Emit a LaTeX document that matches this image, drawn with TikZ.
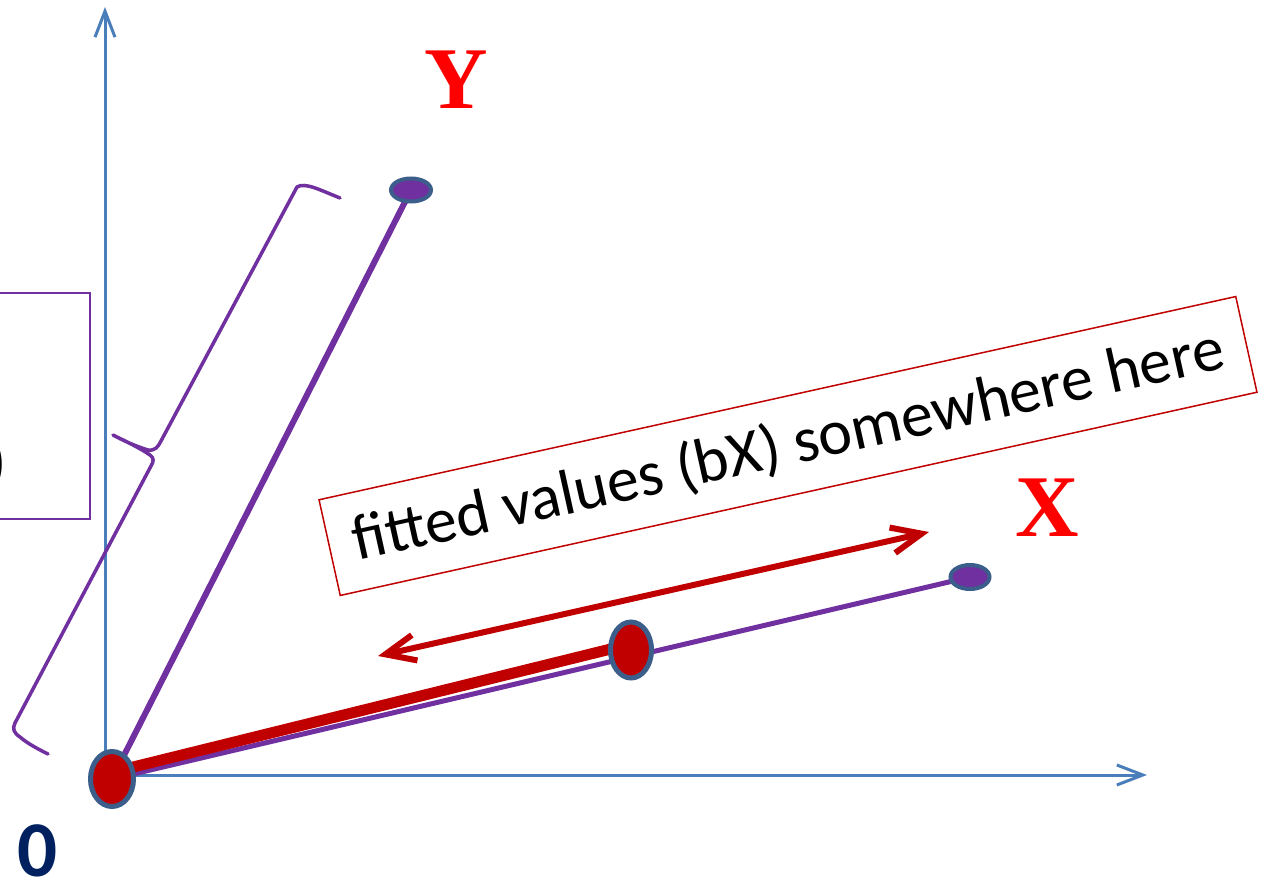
\documentclass[tikz,border=0pt]{standalone}
\usepackage{fontspec}
\setmainfont{Carlito}
\newfontfamily\timesfam{Liberation Serif}
\usetikzlibrary{arrows.meta,shapes.geometric}
\definecolor{axisblue}{HTML}{4A7EBB}
\definecolor{vpurple}{HTML}{7030A0}
\definecolor{darkred}{HTML}{C00000}
\definecolor{ringblue}{HTML}{3B5E8B}
\definecolor{navy}{HTML}{002060}
\definecolor{brightred}{HTML}{FF0000}
\begin{document}
\begin{tikzpicture}[x=1pt,y=-1pt,
  axisline/.style={draw=axisblue, line width=3pt, -{Straight Barb[length=26pt,width=20pt]}},
  vecline/.style={draw=vpurple, line width=6pt},
  fitline/.style={draw=darkred, line width=11pt},
  dblarrow/.style={draw=darkred, line width=6pt, {Straight Barb[length=30pt,width=26pt]}-{Straight Barb[length=30pt,width=26pt]}},
  bigpt/.style={ellipse, draw=ringblue, line width=5pt, fill=darkred, inner sep=0pt},
  smallpt/.style={ellipse, draw=ringblue, line width=4pt, fill=vpurple, inner sep=0pt},
  lbl/.style={text=brightred, font=\timesfam\bfseries\fontsize{88}{90}\selectfont, inner sep=0pt},
  bracestyle/.style={draw=vpurple, line width=3.5pt, line join=round, line cap=round},
  thinbox/.style={line width=1.8pt}
]
\useasboundingbox (0,0) rectangle (1264,885);

% coordinates
\coordinate (ax0) at (105,775);
\coordinate (axtop) at (105,7);
\coordinate (axright) at (1147,775);
\coordinate (o) at (112,779);
\coordinate (m) at (631,650);
\coordinate (yp) at (411,190);
\coordinate (xp) at (970,577);
\coordinate (fo) at (113,772);
\coordinate (fm) at (631,644);
\coordinate (al) at (378,656);
\coordinate (ar) at (929,532);

% axes
\draw[axisline] (ax0) -- (axtop);
\draw[axisline] (ax0) -- (axright);

% left box (cut off)
\draw[draw=vpurple, thinbox] (-20,293) rectangle (90,519);
\node[anchor=east, inner sep=0pt, font=\fontsize{64}{70}\selectfont] (paren) at (7,465) {)};

% brace
\draw[bracestyle] (340,198) .. controls (320,190) and (305,182) .. (297,187)
  -- (161,441) .. controls (158,447) and (155,451) .. (148,450)
  .. controls (135,446) and (122,440) .. (113,435)
  .. controls (125,441) and (140,448) .. (150,455)
  .. controls (154,458) and (154,461) .. (151,466)
  -- (15,723) .. controls (12,729) and (14,733) .. (20,737)
  .. controls (28,744) and (40,750) .. (48,754);

% vectors
\draw[vecline] (o) -- (yp);
\draw[vecline, line width=5pt] (o) -- (xp);
\draw[fitline] (fo) -- (fm);

% double arrow
\draw[dblarrow] (al) -- (ar);

% points
\node[bigpt, minimum width=43pt, minimum height=55pt] (O) at (o) {};
\node[bigpt, minimum width=41pt, minimum height=56pt] (M) at (m) {};
\node[smallpt, minimum width=40pt, minimum height=23pt] (Yp) at (yp) {};
\node[smallpt, minimum width=39pt, minimum height=24pt] (Xp) at (xp) {};

% text box
\node[draw=darkred, line width=1.5pt, rotate=12.5, minimum width=939pt, minimum height=98pt,
      font=\fontsize{64}{70}\selectfont, inner sep=0pt] (fitted) at (788,446)
      {fitted values (bX) somewhere here};

% labels
\node[lbl] (Ylab) at (456,80) {Y};
\node[lbl] (Xlab) at (1047,508) {X};
\node[inner sep=0pt, text=navy, font=\bfseries\fontsize{79}{80}\selectfont] (zero) at (38,851) {0};
\end{tikzpicture}
\end{document}
